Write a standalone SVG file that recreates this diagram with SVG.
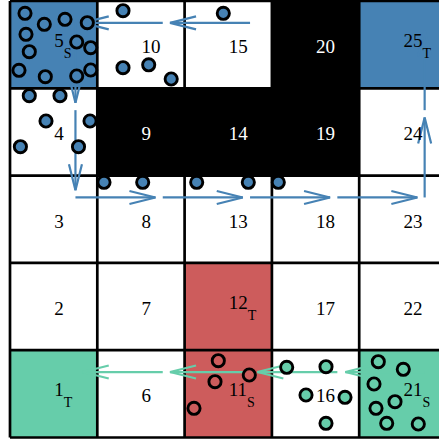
<svg xmlns="http://www.w3.org/2000/svg" width="439" height="439" viewBox="0 0 439 439">
<style>
.w{fill:#ffffff}
.b{fill:#000000}
.sb{fill:#4682B4}
.rd{fill:#CD5C5C}
.gr{fill:#66CDAA}
text{font-family:"Liberation Serif","Times New Roman",serif;font-size:19px;fill:#000}
text.lt{fill:#ffffff}
.sub{font-size:14px}
.grid line{stroke:#000;stroke-width:2.7}
.ab{stroke:#4682B4;stroke-width:2.2;fill:none}
.ag{stroke:#66CDAA;stroke-width:2.2;fill:none}
.agents circle{stroke:#000;stroke-width:2.9}
.cb{fill:#4682B4}
.cg{fill:#66CDAA}
.cr{fill:#CD5C5C}
</style>
<defs>
<marker id="hb" markerUnits="userSpaceOnUse" markerWidth="40" markerHeight="20" refX="26" refY="0" viewBox="-2 -10 32 20" orient="auto" overflow="visible">
<path d="M0,-6.5 L26,0 L0,6.5" fill="none" stroke="#4682B4" stroke-width="2.2"/>
</marker>
<marker id="hg" markerUnits="userSpaceOnUse" markerWidth="40" markerHeight="20" refX="26" refY="0" viewBox="-2 -10 32 20" orient="auto" overflow="visible">
<path d="M0,-6.5 L26,0 L0,6.5" fill="none" stroke="#66CDAA" stroke-width="2.2"/>
</marker>
</defs>
<rect x="0" y="0" width="439" height="439" fill="#fff"/>
<g id="cells">
<g id="c1"><rect class="gr" x="10" y="350.2" width="87.3" height="87.3"/></g>
<g id="c2"><rect class="w" x="10" y="262.9" width="87.3" height="87.3"/></g>
<g id="c3"><rect class="w" x="10" y="175.6" width="87.3" height="87.3"/></g>
<g id="c4"><rect class="w" x="10" y="88.3" width="87.3" height="87.3"/></g>
<g id="c5"><rect class="sb" x="10" y="1" width="87.3" height="87.3"/></g>
<g id="c6"><rect class="w" x="97.3" y="350.2" width="87.3" height="87.3"/></g>
<g id="c7"><rect class="w" x="97.3" y="262.9" width="87.3" height="87.3"/></g>
<g id="c8"><rect class="w" x="97.3" y="175.6" width="87.3" height="87.3"/></g>
<g id="c9"><rect class="b" x="97.3" y="88.3" width="87.3" height="87.3"/></g>
<g id="c10"><rect class="w" x="97.3" y="1" width="87.3" height="87.3"/></g>
<g id="c11"><rect class="rd" x="184.6" y="350.2" width="87.3" height="87.3"/></g>
<g id="c12"><rect class="rd" x="184.6" y="262.9" width="87.3" height="87.3"/></g>
<g id="c13"><rect class="w" x="184.6" y="175.6" width="87.3" height="87.3"/></g>
<g id="c14"><rect class="b" x="184.6" y="88.3" width="87.3" height="87.3"/></g>
<g id="c15"><rect class="w" x="184.6" y="1" width="87.3" height="87.3"/></g>
<g id="c16"><rect class="w" x="271.9" y="350.2" width="87.3" height="87.3"/></g>
<g id="c17"><rect class="w" x="271.9" y="262.9" width="87.3" height="87.3"/></g>
<g id="c18"><rect class="w" x="271.9" y="175.6" width="87.3" height="87.3"/></g>
<g id="c19"><rect class="b" x="271.9" y="88.3" width="87.3" height="87.3"/></g>
<g id="c20"><rect class="b" x="271.9" y="1" width="87.3" height="87.3"/></g>
<g id="c21"><rect class="gr" x="359.2" y="350.2" width="87.3" height="87.3"/></g>
<g id="c22"><rect class="w" x="359.2" y="262.9" width="87.3" height="87.3"/></g>
<g id="c23"><rect class="w" x="359.2" y="175.6" width="87.3" height="87.3"/></g>
<g id="c24"><rect class="w" x="359.2" y="88.3" width="87.3" height="87.3"/></g>
<g id="c25"><rect class="sb" x="359.2" y="1" width="87.3" height="87.3"/></g>
</g>
<g class="grid" id="grid">
<line x1="10" y1="1" x2="10" y2="437.5"/>
<line x1="97.3" y1="1" x2="97.3" y2="437.5"/>
<line x1="184.6" y1="1" x2="184.6" y2="437.5"/>
<line x1="271.9" y1="1" x2="271.9" y2="437.5"/>
<line x1="359.2" y1="1" x2="359.2" y2="437.5"/>
<line x1="10" y1="1" x2="439" y2="1"/>
<line x1="10" y1="88.3" x2="439" y2="88.3"/>
<line x1="10" y1="175.6" x2="439" y2="175.6"/>
<line x1="10" y1="262.9" x2="439" y2="262.9"/>
<line x1="10" y1="350.2" x2="439" y2="350.2"/>
<line x1="10" y1="437.5" x2="439" y2="437.5"/>
</g>
<g id="connectors">
<path class="ab" marker-end="url(#hb)" d="M250.05,22.85 L170.05,22.85"/>
<path class="ab" marker-end="url(#hb)" d="M162.75,22.85 L82.75,22.85"/>
<path class="ab" marker-end="url(#hb)" d="M75.45,22.85 L75.45,102.85"/>
<path class="ab" marker-end="url(#hb)" d="M75.45,110.15 L75.45,190.15"/>
<path class="ab" marker-end="url(#hb)" d="M75.45,197.45 L155.45,197.45"/>
<path class="ab" marker-end="url(#hb)" d="M162.75,197.45 L242.75,197.45"/>
<path class="ab" marker-end="url(#hb)" d="M250.05,197.45 L330.05,197.45"/>
<path class="ab" marker-end="url(#hb)" d="M337.35,197.45 L417.35,197.45"/>
<path class="ab" marker-end="url(#hb)" d="M424.65,197.45 L424.65,117.45"/>
<path class="ab" marker-end="url(#hb)" d="M424.65,110.15 L424.65,30.15"/>
<path class="ag" marker-end="url(#hg)" d="M424.65,372.05 L345.35,372.05"/>
<path class="ag" marker-end="url(#hg)" d="M337.35,372.05 L257.35,372.05"/>
<path class="ag" marker-end="url(#hg)" d="M250.05,372.05 L170.05,372.05"/>
<path class="ag" marker-end="url(#hg)" d="M162.75,372.05 L82.75,372.05"/>
</g>
<g id="labels">
<text x="54.2" y="396.3">1<tspan class="sub" dy="10.5">T</tspan></text>
<text x="54.2" y="315">2</text>
<text x="54.2" y="227.7">3</text>
<text x="54.2" y="140.4">4</text>
<text x="54.2" y="47.1">5<tspan class="sub" dy="10.5">S</tspan></text>
<text x="141.5" y="402.3">6</text>
<text x="141.5" y="315">7</text>
<text x="141.5" y="227.7">8</text>
<text class="lt" x="141.5" y="140.4">9</text>
<text x="141.5" y="53.1">10</text>
<text x="228.8" y="396.3">11<tspan class="sub" dy="10.5">S</tspan></text>
<text x="228.8" y="309">12<tspan class="sub" dy="10.5">T</tspan></text>
<text x="228.8" y="227.7">13</text>
<text class="lt" x="228.8" y="140.4">14</text>
<text x="228.8" y="53.1">15</text>
<text x="316.1" y="402.3">16</text>
<text x="316.1" y="315">17</text>
<text x="316.1" y="227.7">18</text>
<text class="lt" x="316.1" y="140.4">19</text>
<text class="lt" x="316.1" y="53.1">20</text>
<text x="403.4" y="396.3">21<tspan class="sub" dy="10.5">S</tspan></text>
<text x="403.4" y="315">22</text>
<text x="403.4" y="227.7">23</text>
<text x="403.4" y="140.4">24</text>
<text x="403.4" y="47.1">25<tspan class="sub" dy="10.5">T</tspan></text>
</g>
<g class="agents" id="agents">
<circle class="cb" cx="25" cy="13.3" r="6.1"/>
<circle class="cb" cx="44.3" cy="24.3" r="6.1"/>
<circle class="cb" cx="65" cy="19.3" r="6.1"/>
<circle class="cb" cx="87.3" cy="22.7" r="6.1"/>
<circle class="cb" cx="26" cy="34.3" r="6.1"/>
<circle class="cb" cx="76.7" cy="42" r="6.1"/>
<circle class="cb" cx="90.7" cy="47.7" r="6.1"/>
<circle class="cb" cx="29.3" cy="51.7" r="6.1"/>
<circle class="cb" cx="19" cy="70.3" r="6.1"/>
<circle class="cb" cx="45.3" cy="76.7" r="6.1"/>
<circle class="cb" cx="76.7" cy="76" r="6.1"/>
<circle class="cb" cx="90.7" cy="70" r="6.1"/>
<circle class="cb" cx="123" cy="10.7" r="6.1"/>
<circle class="cb" cx="123" cy="67.7" r="6.1"/>
<circle class="cb" cx="148.7" cy="64.8" r="6.1"/>
<circle class="cb" cx="171.2" cy="79" r="6.1"/>
<circle class="cb" cx="223.3" cy="13.3" r="6.1"/>
<circle class="cb" cx="29.3" cy="95.7" r="6.1"/>
<circle class="cb" cx="60" cy="95.7" r="6.1"/>
<circle class="cb" cx="46" cy="121" r="6.1"/>
<circle class="cb" cx="90" cy="121" r="6.1"/>
<circle class="cb" cx="20.4" cy="146.7" r="6.1"/>
<circle class="cb" cx="78.5" cy="146.7" r="6.1"/>
<circle class="cb" cx="104" cy="182.3" r="6.1"/>
<circle class="cb" cx="142.7" cy="182.3" r="6.1"/>
<circle class="cb" cx="196.7" cy="182.3" r="6.1"/>
<circle class="cb" cx="248.3" cy="182.3" r="6.1"/>
<circle class="cb" cx="278.3" cy="182.3" r="6.1"/>
<circle class="cr" cx="218.3" cy="360.7" r="6.1"/>
<circle class="cr" cx="249.3" cy="375" r="6.1"/>
<circle class="cr" cx="215" cy="381.7" r="6.1"/>
<circle class="cr" cx="194" cy="408.3" r="6.1"/>
<circle class="cg" cx="286.7" cy="367.3" r="6.1"/>
<circle class="cg" cx="326" cy="366.7" r="6.1"/>
<circle class="cg" cx="306" cy="395" r="6.1"/>
<circle class="cg" cx="345" cy="397.3" r="6.1"/>
<circle class="cg" cx="326" cy="423.3" r="6.1"/>
<circle class="cg" cx="378.3" cy="361.7" r="6.1"/>
<circle class="cg" cx="403.3" cy="369.3" r="6.1"/>
<circle class="cg" cx="374" cy="384" r="6.1"/>
<circle class="cg" cx="395" cy="401.7" r="6.1"/>
<circle class="cg" cx="376" cy="408.3" r="6.1"/>
<circle class="cg" cx="386.7" cy="423.3" r="6.1"/>
<circle class="cg" cx="418.3" cy="424" r="6.1"/>
</g>
</svg>
